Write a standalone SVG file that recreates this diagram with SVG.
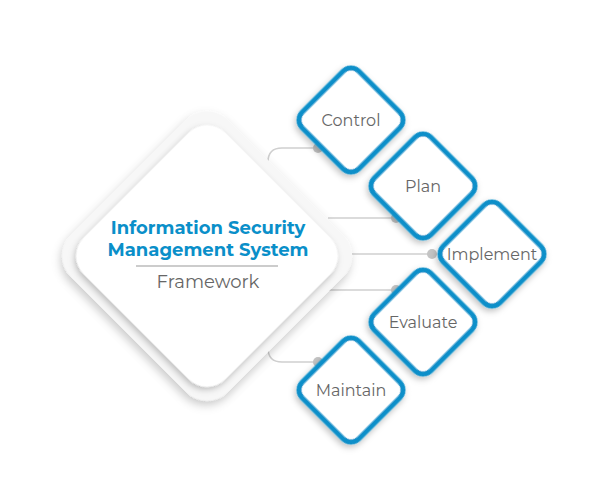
<svg xmlns="http://www.w3.org/2000/svg" width="601" height="502" viewBox="0 0 601 502">
<defs>
<filter id="sh" x="-30%" y="-30%" width="160%" height="160%"><feDropShadow dx="2" dy="4" stdDeviation="5" flood-color="#000" flood-opacity="0.22"/></filter>
<filter id="sh2" x="-30%" y="-30%" width="160%" height="160%"><feDropShadow dx="1" dy="3" stdDeviation="3" flood-color="#000" flood-opacity="0.25"/></filter>
</defs>
<style>
.sm{fill:#fff;stroke:#0a8fc9;stroke-width:5}
.lb{font-family:Montserrat,"Noto Sans","Liberation Sans",sans-serif;font-size:16px;fill:#666;text-anchor:middle}
.cn{fill:none;stroke:#cfcfcf;stroke-width:1.5}
.dot{fill:#c4c4c4}
</style>
<rect width="601" height="502" fill="#fff"/>
<g id="connectors">
<path class="cn" d="M268 162 Q268 148 282 148 H318"/>
<path class="cn" d="M328 218 H396"/>
<path class="cn" d="M352 254 H432"/>
<path class="cn" d="M328 290 H396"/>
<path class="cn" d="M268 348 Q268 362 282 362 H318"/>
<circle class="dot" cx="318" cy="148" r="5"/>
<circle class="dot" cx="396" cy="218" r="5"/>
<circle class="dot" cx="432" cy="254" r="5"/>
<circle class="dot" cx="396" cy="290" r="5"/>
<circle class="dot" cx="318" cy="362" r="5"/>
</g>
<g id="main">
<rect x="96" y="145" width="222" height="222" rx="30" fill="#f7f7f7" filter="url(#sh)" transform="rotate(45 207 256)"/>
<rect x="107" y="156" width="200" height="200" rx="26" fill="#fff" filter="url(#sh2)" transform="rotate(45 207 256)"/>
<text x="208" y="234" font-family="Montserrat,'Noto Sans','Liberation Sans',sans-serif" font-size="18" font-weight="bold" fill="#0a8fc9" text-anchor="middle">Information Security</text>
<text x="208" y="256" font-family="Montserrat,'Noto Sans','Liberation Sans',sans-serif" font-size="18" font-weight="bold" fill="#0a8fc9" text-anchor="middle">Management System</text>
<line x1="136" y1="266" x2="278" y2="266" stroke="#999" stroke-width="1"/>
<text x="208" y="288" class="lb" style="font-size:18px">Framework</text>
</g>
<g id="control"><rect x="311" y="80" width="80" height="80" rx="11" class="sm" filter="url(#sh2)" transform="rotate(45 351 120)"/><text x="351" y="126" class="lb">Control</text></g>
<g id="plan"><rect x="383" y="146" width="80" height="80" rx="11" class="sm" filter="url(#sh2)" transform="rotate(45 423 186)"/><text x="423" y="192" class="lb">Plan</text></g>
<g id="implement"><rect x="452" y="214" width="80" height="80" rx="11" class="sm" filter="url(#sh2)" transform="rotate(45 492 254)"/><text x="492" y="260" class="lb">Implement</text></g>
<g id="evaluate"><rect x="383" y="282" width="80" height="80" rx="11" class="sm" filter="url(#sh2)" transform="rotate(45 423 322)"/><text x="423" y="328" class="lb">Evaluate</text></g>
<g id="maintain"><rect x="311" y="350" width="80" height="80" rx="11" class="sm" filter="url(#sh2)" transform="rotate(45 351 390)"/><text x="351" y="396" class="lb">Maintain</text></g>
</svg>
